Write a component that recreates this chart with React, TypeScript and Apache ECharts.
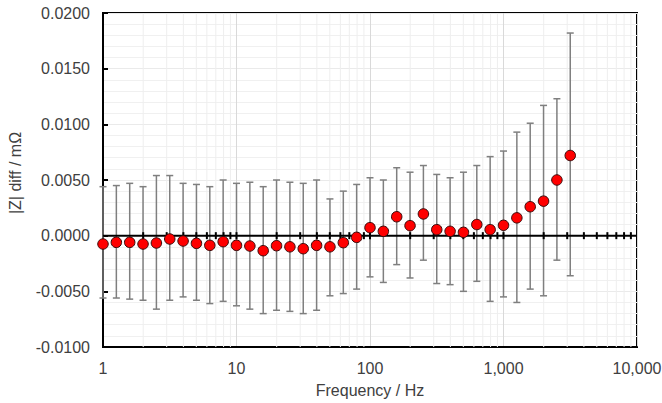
import React, { useEffect, useRef } from 'react';
import * as echarts from 'echarts';

// Frequencies (Hz) of the measurement points
const freqs = [
  1, 1.259, 1.585, 1.995, 2.512, 3.162, 3.981, 5.012, 6.31, 7.943,
  10, 12.59, 15.85, 19.95, 25.12, 31.62, 39.81, 50.12, 63.1, 79.43,
  100, 125.9, 158.5, 199.5, 251.2, 316.2, 398.1, 501.2, 631, 794.3,
  1000, 1259, 1585, 1995, 2512, 3162,
];
// |Z| diff values (mΩ)
const diffs = [
  -0.00075, -0.0006, -0.0006, -0.00075, -0.00066, -0.0003, -0.00048, -0.00069, -0.00087, -0.00054,
  -0.00087, -0.00093, -0.00135, -0.0009, -0.001, -0.00117, -0.00087, -0.001, -0.00063, -0.00015,
  0.00072, 0.00039, 0.0017, 0.0009, 0.00195, 0.00054, 0.00039, 0.0003, 0.001, 0.00054,
  0.00093, 0.0016, 0.0026, 0.0031, 0.005, 0.0072,
];
// Error bar upper ends
const upper = [
  0.0044, 0.0045, 0.0047, 0.0044, 0.0054, 0.0054, 0.0047, 0.0046, 0.0044, 0.005,
  0.0047, 0.0048, 0.0044, 0.005, 0.0048, 0.0047, 0.005, 0.0033, 0.004, 0.0046,
  0.0052, 0.005, 0.0061, 0.0057, 0.0063, 0.0055, 0.0052, 0.0057, 0.0063, 0.0071,
  0.0076, 0.0093, 0.0101, 0.0117, 0.0123, 0.0182,
];
// Error bar lower ends
const lower = [
  -0.0056, -0.0056, -0.0057, -0.0058, -0.0066, -0.0058, -0.0055, -0.0058, -0.0061, -0.0059,
  -0.0063, -0.0066, -0.007, -0.0067, -0.0068, -0.007, -0.0067, -0.0054, -0.0052, -0.0048,
  -0.0037, -0.0042, -0.0026, -0.0038, -0.0022, -0.0043, -0.0044, -0.005, -0.0041, -0.0059,
  -0.0055, -0.006, -0.0048, -0.0054, -0.0022, -0.0036,
];

// Axis ranges
const X_MIN = 1;
const X_MAX = 10000;
const Y_MIN = -0.01;
const Y_MAX = 0.02;
const Y_STEP = 0.005;

// Minor log positions (2..9 of each decade) and major decade positions
const minorFreqs = [
  2, 3, 4, 5, 6, 7, 8, 9,
  20, 30, 40, 50, 60, 70, 80, 90,
  200, 300, 400, 500, 600, 700, 800, 900,
  2000, 3000, 4000, 5000, 6000, 7000, 8000, 9000,
];
const majorFreqs = [10, 100, 1000];

const X_TITLE = 'Frequency / Hz';
const Y_TITLE = '|Z| diff / mΩ';

const FONT = '"Liberation Sans", Arial, sans-serif';
const TEXT_COLOR = '#404040';

export default function App() {
  const ref = useRef<HTMLDivElement>(null);

  useEffect(() => {
    const chart = echarts.init(ref.current!, null, { renderer: 'svg' });

    const option: any = {
      animation: false,
      backgroundColor: '#ffffff',
      textStyle: { fontFamily: FONT },
      grid: {
        left: 103,
        right: 25,
        top: 13,
        bottom: 56,
        show: true,
        borderColor: '#000',
        borderWidth: 2,
        outerBoundsMode: 'none',
        containLabel: false,
      },
      xAxis: {
        type: 'log',
        logBase: 10,
        min: X_MIN,
        max: X_MAX,
        axisLine: { show: true, onZero: false, lineStyle: { color: '#000', width: 2 } },
        axisTick: { show: false },
        axisLabel: {
          color: TEXT_COLOR,
          fontSize: 16,
          fontFamily: FONT,
          margin: 13,
          formatter: (v: number) => Math.round(v).toLocaleString('en-US'),
        },
        splitLine: { show: true, lineStyle: { color: '#d9d9d9', width: 1 } },
      },
      yAxis: {
        type: 'value',
        min: Y_MIN,
        max: Y_MAX,
        interval: Y_STEP,
        axisLine: { show: true, onZero: false, lineStyle: { color: '#000', width: 2 } },
        axisTick: { show: true, inside: true, length: 5, lineStyle: { color: '#000', width: 2 } },
        minorTick: { show: false, splitNumber: 5 },
        axisLabel: {
          color: TEXT_COLOR,
          fontSize: 16,
          fontFamily: FONT,
          margin: 13,
          formatter: (v: number) => (Math.abs(v) < 1e-12 ? 0 : v).toFixed(4),
        },
        splitLine: { show: true, lineStyle: { color: '#eaeaea', width: 1 } },
        minorSplitLine: { show: true, lineStyle: { color: '#f0f0f0', width: 1 } },
      },
      graphic: [
        {
          type: 'text',
          x: 15,
          y: 173,
          rotation: Math.PI / 2,
          style: {
            text: Y_TITLE,
            font: `16px ${FONT}`,
            fill: TEXT_COLOR,
            align: 'center',
            verticalAlign: 'middle',
          },
        },
        {
          type: 'text',
          x: 370,
          y: 390,
          style: {
            text: X_TITLE,
            font: `16px ${FONT}`,
            fill: TEXT_COLOR,
            align: 'center',
            verticalAlign: 'middle',
          },
        },
      ],
      series: [
        // minor vertical grid lines
        {
          type: 'custom',
          name: 'minorGrid',
          z: 1,
          silent: true,
          data: minorFreqs.map((f) => [f, 0]),
          encode: { x: 0, y: 1 },
          renderItem: (params: any, api: any) => {
            const cs = params.coordSys;
            const p = api.coord([api.value(0), 0]);
            return {
              type: 'line',
              shape: { x1: p[0], y1: cs.y, x2: p[0], y2: cs.y + cs.height },
              style: { stroke: '#eeeeee', lineWidth: 1 },
            };
          },
        },
        // error bars
        {
          type: 'custom',
          name: 'errors',
          z: 2,
          silent: true,
          data: freqs.map((f, i) => [f, lower[i], upper[i]]),
          encode: { x: 0, y: [1, 2] },
          renderItem: (params: any, api: any) => {
            const x = api.value(0);
            const lo = api.coord([x, api.value(1)]);
            const hi = api.coord([x, api.value(2)]);
            const w = 3.5;
            const st = { stroke: '#7f7f7f', lineWidth: 1.5 };
            return {
              type: 'group',
              children: [
                { type: 'line', shape: { x1: hi[0], y1: hi[1], x2: lo[0], y2: lo[1] }, style: st },
                { type: 'line', shape: { x1: hi[0] - w, y1: hi[1], x2: hi[0] + w, y2: hi[1] }, style: st },
                { type: 'line', shape: { x1: lo[0] - w, y1: lo[1], x2: lo[0] + w, y2: lo[1] }, style: st },
              ],
            };
          },
        },
        // zero line
        {
          type: 'custom',
          name: 'zeroLine',
          z: 3,
          silent: true,
          data: [[X_MIN, 0]],
          encode: { x: 0, y: 1 },
          renderItem: (params: any, api: any) => {
            const cs = params.coordSys;
            const p = api.coord([api.value(0), api.value(1)]);
            return {
              type: 'line',
              shape: { x1: cs.x, y1: p[1], x2: cs.x + cs.width, y2: p[1] },
              style: { stroke: '#000', lineWidth: 2 },
            };
          },
        },
        // ticks crossing zero line
        {
          type: 'custom',
          name: 'zeroTicks',
          z: 3,
          silent: true,
          data: minorFreqs.concat(majorFreqs).map((f) => [f, 0]),
          encode: { x: 0, y: 1 },
          renderItem: (params: any, api: any) => {
            const p = api.coord([api.value(0), api.value(1)]);
            return {
              type: 'line',
              shape: { x1: p[0], y1: p[1] - 3.5, x2: p[0], y2: p[1] + 3.5 },
              style: { stroke: '#000', lineWidth: 2 },
            };
          },
        },
        // markers
        {
          type: 'scatter',
          name: '|Z| diff',
          z: 4,
          symbol: 'circle',
          symbolSize: 10.5,
          data: freqs.map((f, i) => [f, diffs[i]]),
          itemStyle: { color: '#ff0000', borderColor: '#3a0a0a', borderWidth: 1, opacity: 1 },
        },
      ],
    };

    chart.setOption(option);
    return () => chart.dispose();
  }, []);

  return (
    <div
      ref={ref}
      style={{ position: 'fixed', left: 0, top: 0, width: 662, height: 403 }}
    />
  );
}
